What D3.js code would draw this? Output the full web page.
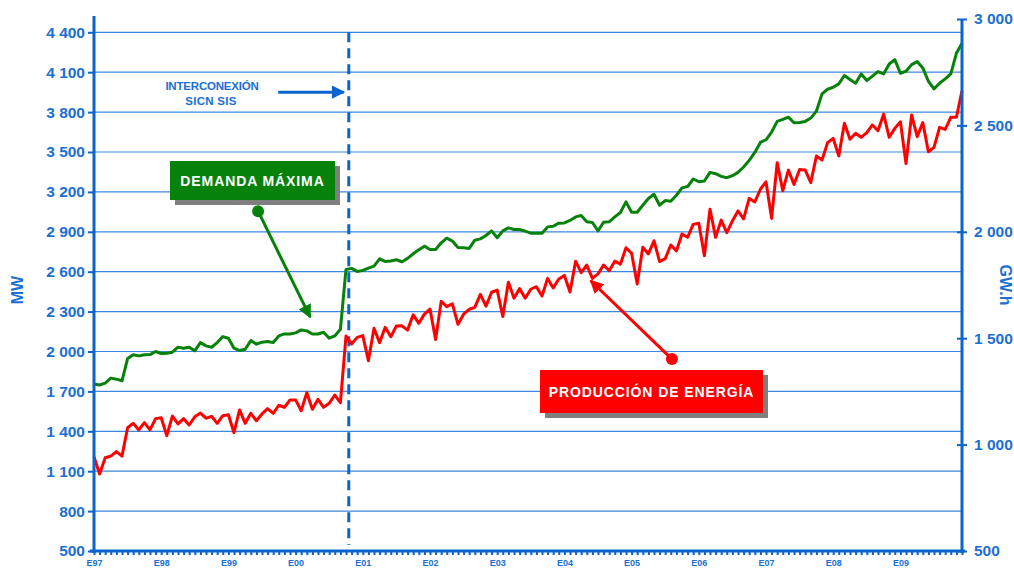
<!DOCTYPE html>
<html>
<head>
<meta charset="utf-8">
<script src="https://cdn.jsdelivr.net/npm/d3@7"></script>
<style>
  body { margin: 0; background: #fff; }
  svg { display: block; font-family: "Liberation Sans", Arial, sans-serif; }
</style>
</head>
<body>
<svg id="chart" width="1014" height="569"></svg>
<script>
// monthly values, Jan 1997 .. Dec 2009
var demanda = [1755,1748,1762,1800,1792,1780,1947,1975,1967,1975,1977,2000,
  1985,1987,1995,2032,2025,2032,2005,2067,2042,2032,2067,2112,
  2100,2025,2007,2017,2082,2055,2070,2075,2067,2117,2132,2132,
  2140,2162,2155,2132,2132,2145,2100,2117,2167,2617,2625,2602,
  2610,2627,2642,2697,2677,2680,2690,2675,2700,2735,2765,2792,
  2767,2767,2817,2852,2830,2782,2780,2775,2837,2847,2872,2907,
  2855,2907,2930,2917,2917,2905,2890,2890,2890,2937,2942,2965,
  2967,2985,3012,3022,2975,2970,2907,2972,2975,3012,3045,3125,
  3047,3047,3100,3150,3182,3100,3135,3130,3175,3230,3240,3297,
  3277,3282,3347,3337,3317,3307,3322,3347,3387,3437,3497,3572,
  3592,3650,3730,3745,3762,3720,3722,3730,3755,3807,3937,3972,
  3987,4012,4075,4045,4017,4087,4037,4070,4105,4087,4162,4195,
  4092,4107,4157,4180,4132,4032,3975,4017,4050,4087,4242,4318];

var energia = [943,862,938,946,967,946,1079,1100,1069,1103,1069,1122,
  1126,1042,1134,1097,1122,1092,1131,1148,1124,1133,1100,1136,
  1140,1056,1163,1100,1147,1112,1144,1169,1147,1185,1175,1210,
  1210,1159,1244,1166,1213,1175,1194,1233,1197,1510,1473,1504,
  1512,1394,1547,1479,1551,1507,1557,1558,1538,1610,1570,1613,
  1637,1494,1673,1648,1661,1565,1613,1636,1645,1706,1651,1716,
  1726,1602,1763,1688,1733,1688,1730,1742,1698,1781,1736,1778,
  1795,1717,1862,1808,1844,1781,1802,1844,1817,1862,1848,1925,
  1899,1755,1927,1896,1958,1860,1874,1938,1910,1990,1974,2035,
  2040,1888,2106,1974,2055,1996,2051,2098,2061,2157,2140,2200,
  2235,2063,2325,2193,2290,2222,2293,2290,2231,2356,2337,2419,
  2439,2356,2510,2435,2463,2444,2466,2502,2475,2553,2444,2486,
  2517,2321,2549,2447,2513,2376,2397,2491,2481,2538,2538,2663];

var anios = ["E97","E98","E99","E00","E01","E02","E03","E04","E05","E06","E07","E08","E09"];
var mwTicks = d3.range(500, 4401, 300);
var gwhTicks = [500, 1000, 1500, 2000, 2500, 3000];
var interconexionMes = 45.5;

var blue = "#0a64cc";
var textBlue = "#1b6fd2";

var svg = d3.select("#chart");
var x = d3.scaleLinear().domain([0, 155]).range([94, 962]);
var yL = d3.scaleLinear().domain([500, 4500]).range([551, 19]);
var yR = d3.scaleLinear().domain([500, 3000]).range([551, 19]);

var loc = d3.formatLocale({decimal: ",", thousands: " ", grouping: [3], currency: ["", ""]});
var fmt = loc.format(",d");

// grid
svg.append("g").selectAll("line").data(mwTicks.filter(function(d){ return d > 500; }))
  .enter().append("line")
  .attr("x1", x(0)).attr("x2", x(155))
  .attr("y1", function(d){ return yL(d); }).attr("y2", function(d){ return yL(d); })
  .attr("stroke", "#3c87e0").attr("stroke-width", 1.2);

// interconnection line
svg.append("line")
  .attr("x1", x(interconexionMes)).attr("x2", x(interconexionMes))
  .attr("y1", yL(4400)).attr("y2", 545)
  .attr("stroke", blue).attr("stroke-width", 3)
  .attr("stroke-dasharray", "10,6");

// series
var months = d3.range(demanda.length);
svg.append("path").datum(months)
  .attr("fill", "none").attr("stroke", "#06820a").attr("stroke-width", 3)
  .attr("stroke-linejoin", "round")
  .attr("d", d3.line().x(function(i){ return x(i); }).y(function(i){ return yL(demanda[i]); }));
svg.append("path").datum(months)
  .attr("fill", "none").attr("stroke", "#ff0000").attr("stroke-width", 3)
  .attr("stroke-linejoin", "round")
  .attr("d", d3.line().x(function(i){ return x(i); }).y(function(i){ return yR(energia[i]); }));

// left axis
var gL = svg.append("g").attr("transform", "translate(" + x(0) + ",0)")
  .call(d3.axisLeft(yL).tickValues(mwTicks).tickFormat(fmt).tickSize(6).tickSizeOuter(0));
gL.select(".domain").remove();
gL.selectAll(".tick line").attr("stroke", blue).attr("stroke-width", 2);
gL.selectAll(".tick text").attr("fill", textBlue).attr("font-size", 15.5).attr("font-weight", "bold")
  .attr("x", -9).attr("font-family", "Liberation Sans, Arial, sans-serif");
svg.append("line").attr("x1", x(0)).attr("x2", x(0)).attr("y1", 16).attr("y2", 553)
  .attr("stroke", blue).attr("stroke-width", 3);

// right axis
var gR = svg.append("g").attr("transform", "translate(" + x(155) + ",0)")
  .call(d3.axisRight(yR).tickValues(gwhTicks).tickFormat(fmt).tickSize(5).tickSizeOuter(0));
gR.select(".domain").remove();
gR.selectAll(".tick line").attr("stroke", blue).attr("stroke-width", 2).attr("x1", -5);
gR.selectAll(".tick text").attr("fill", textBlue).attr("font-size", 15.5).attr("font-weight", "bold")
  .attr("x", 12).attr("font-family", "Liberation Sans, Arial, sans-serif");
svg.append("line").attr("x1", x(155)).attr("x2", x(155)).attr("y1", 19).attr("y2", 553)
  .attr("stroke", blue).attr("stroke-width", 3);

// bottom axis
var gB = svg.append("g").attr("transform", "translate(0,551)")
  .call(d3.axisBottom(x).tickValues(months).tickSize(4).tickFormat(function(i){
    return i % 12 === 0 ? anios[i / 12] : "";
  }).tickSizeOuter(0));
gB.select(".domain").remove();
gB.selectAll(".tick line").attr("stroke", blue).attr("stroke-width", 2);
gB.selectAll(".tick text").attr("fill", textBlue).attr("font-size", 9).attr("font-weight", "bold")
  .attr("y", 8.5).attr("font-family", "Liberation Sans, Arial, sans-serif");
svg.append("line").attr("x1", x(0) - 4).attr("x2", x(155) + 3).attr("y1", 551).attr("y2", 551)
  .attr("stroke", blue).attr("stroke-width", 3);

// axis titles
svg.append("text").attr("transform", "translate(23,290) rotate(-90)")
  .attr("text-anchor", "middle").attr("fill", textBlue)
  .attr("font-size", 16).attr("font-weight", "bold").text("MW");
svg.append("text").attr("transform", "translate(1000,285) rotate(90)")
  .attr("text-anchor", "middle").attr("fill", textBlue)
  .attr("font-size", 16).attr("font-weight", "bold").text("GW.h");

// arrow markers
var defs = svg.append("defs");
function marker(id, color) {
  defs.append("marker").attr("id", id).attr("viewBox", "0 0 10 10")
    .attr("refX", 9).attr("refY", 5).attr("markerWidth", 4.5).attr("markerHeight", 4.5)
    .attr("markerUnits", "strokeWidth").attr("orient", "auto")
    .append("path").attr("d", "M0,0 L10,5 L0,10 Z").attr("fill", color);
}
marker("ag", "#06820a");
marker("ar", "#ff0000");
marker("ab", blue);

// interconnection note
svg.append("text").attr("x", 212).attr("y", 90).attr("text-anchor", "middle")
  .attr("fill", textBlue).attr("font-size", 11.5).attr("font-weight", "bold")
  .attr("letter-spacing", -0.2).text("INTERCONEXIÓN");
svg.append("text").attr("x", 211).attr("y", 105).attr("text-anchor", "middle")
  .attr("fill", textBlue).attr("font-size", 11.5).attr("font-weight", "bold")
  .attr("letter-spacing", 0.3).text("SICN SIS");
svg.append("line").attr("x1", x(32.9)).attr("x2", x(44.6))
  .attr("y1", yL(3950)).attr("y2", yL(3950))
  .attr("stroke", blue).attr("stroke-width", 3).attr("marker-end", "url(#ab)");

// callout boxes
function callout(bx, by, bw, bh, color, label, dot, tip, mk) {
  svg.append("rect").attr("x", bx + 5).attr("y", by + 5).attr("width", bw).attr("height", bh)
    .attr("fill", "#7f7f7f");
  svg.append("rect").attr("x", bx).attr("y", by).attr("width", bw).attr("height", bh)
    .attr("fill", color);
  svg.append("text").attr("x", bx + bw / 2).attr("y", by + bh / 2 + 5)
    .attr("text-anchor", "middle").attr("fill", "#fff").attr("font-size", 14)
    .attr("font-weight", "bold").attr("letter-spacing", 0.9)
    .text(label);
  svg.append("line").attr("x1", dot[0]).attr("y1", dot[1]).attr("x2", tip[0]).attr("y2", tip[1])
    .attr("stroke", color).attr("stroke-width", 3).attr("marker-end", "url(#" + mk + ")");
  svg.append("circle").attr("cx", dot[0]).attr("cy", dot[1]).attr("r", 6).attr("fill", color);
}
callout(170, 161, 165, 39, "#06820a", "DEMANDA MÁXIMA",
  [x(29.3), yL(3055)], [x(38.6), yL(2258)], "ag");
callout(540, 370, 223, 43, "#ff0000", "PRODUCCIÓN DE ENERGÍA",
  [x(103.2), yR(1402)], [x(88.7), yR(1770)], "ar");
</script>
</body>
</html>
